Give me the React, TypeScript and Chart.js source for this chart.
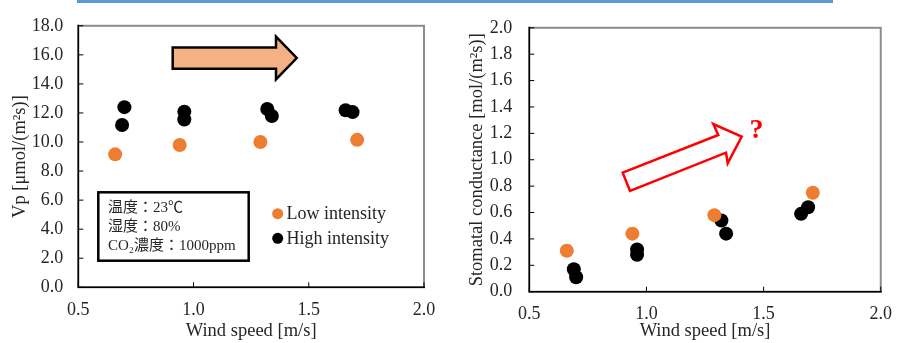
import { useEffect, useRef } from 'react';
import { Chart, registerables } from 'chart.js';
Chart.register(...registerables);

// ---- data ----
const seriesNames = ['Low intensity', 'High intensity'];
const vpLowX = [0.66, 0.94, 1.29, 1.71];
const vpLowY = [9.15, 9.8, 10.0, 10.15];
const vpHighX = [0.7, 0.69, 0.96, 0.96, 1.32, 1.34, 1.66, 1.69];
const vpHighY = [12.4, 11.17, 12.08, 11.55, 12.27, 11.79, 12.19, 12.06];
const gsLowX = [0.66, 0.94, 1.29, 1.71];
const gsLowY = [0.31, 0.44, 0.58, 0.75];
const gsHighX = [0.69, 0.7, 0.96, 0.96, 1.32, 1.34, 1.66, 1.69];
const gsHighY = [0.17, 0.11, 0.32, 0.28, 0.54, 0.44, 0.59, 0.64];
const xRange = [0.5, 2.0];
const xStep = 0.5;
const vpRange = [0, 18];
const vpStep = 2;
const gsRange = [0, 2];
const gsStep = 0.2;
const conditionLines = ['温度：23℃', '湿度：80%', 'CO₂濃度：1000ppm'];
const xTitle = 'Wind speed [m/s]';
const vpTitle = 'Vp [μmol/(m²s)]';
const gsTitle = 'Stomatal conductance [mol/(m²s)]';

const ORANGE = '#ED7D31';
const BLACK = '#000000';
const TEXT = '#262626';
const SERIF = '"Liberation Serif", "Times New Roman", serif';

const toPts = (xs: number[], ys: number[]) => xs.map((x, i) => ({ x, y: ys[i] }));

const frameTicks = {
  id: 'frameTicks',
  afterDatasetsDraw(chart: any) {
    const { ctx, chartArea: a, scales } = chart;
    ctx.save();
    ctx.strokeStyle = '#8c8c8c';
    ctx.lineWidth = 2;
    ctx.strokeRect(a.left, a.top, a.right - a.left, a.bottom - a.top);
    ctx.strokeStyle = '#000';
    ctx.lineWidth = 1.5;
    ctx.beginPath();
    ctx.moveTo(a.left, a.top - 1);
    ctx.lineTo(a.left, a.bottom);
    ctx.lineTo(a.right + 1, a.bottom);
    ctx.stroke();
    ctx.lineWidth = 1;
    ctx.beginPath();
    scales.y.ticks.forEach((t: any) => {
      const p = scales.y.getPixelForValue(t.value);
      ctx.moveTo(a.left, p);
      ctx.lineTo(a.left + 5, p);
    });
    scales.x.ticks.forEach((t: any) => {
      const p = scales.x.getPixelForValue(t.value);
      ctx.moveTo(p, a.bottom);
      ctx.lineTo(p, a.bottom - 5);
    });
    ctx.stroke();
    ctx.restore();
  },
};

function makeOptions(
  yRange: number[],
  yStep: number,
  yTitle: string,
  pad: { left: number; right: number; top: number; bottom: number },
  yWidth: number,
  xHeight: number,
  yPad: number,
  decorate: (ctx: CanvasRenderingContext2D) => void
) {
  return {
    plugins: [
      frameTicks,
      {
        id: 'decor',
        afterDraw(chart: any) {
          const ctx = chart.ctx;
          ctx.save();
          decorate(ctx);
          ctx.restore();
        },
      },
    ],
    options: {
      responsive: false,
      animation: false as const,
      devicePixelRatio: 1,
      layout: { padding: pad },
      plugins: { legend: { display: false }, tooltip: { enabled: false } },
      scales: {
        x: {
          type: 'linear' as const,
          min: xRange[0],
          max: xRange[1],
          grid: { display: false, drawTicks: false },
          border: { display: false },
          ticks: {
            stepSize: xStep,
            padding: 12,
            color: TEXT,
            font: { family: SERIF, size: 18 },
            callback: (v: any) => Number(v).toFixed(1),
          },
          title: {
            display: true,
            text: xTitle,
            color: TEXT,
            padding: 0,
            font: { family: SERIF, size: 18.5 },
          },
          afterFit: (s: any) => {
            s.height = xHeight;
          },
        },
        y: {
          type: 'linear' as const,
          min: yRange[0],
          max: yRange[1],
          grid: { display: false, drawTicks: false },
          border: { display: false },
          ticks: {
            stepSize: yStep,
            padding: yPad,
            color: TEXT,
            font: { family: SERIF, size: 18 },
            callback: (v: any) => Number(v).toFixed(1),
          },
          title: {
            display: true,
            text: yTitle,
            color: TEXT,
            padding: 0,
            font: { family: SERIF, size: 18.5 },
          },
          afterFit: (s: any) => {
            s.width = yWidth;
          },
        },
      },
    },
  };
}

function datasets(lx: number[], ly: number[], hx: number[], hy: number[]) {
  return [
    {
      label: seriesNames[0],
      data: toPts(lx, ly),
      backgroundColor: ORANGE,
      borderWidth: 0,
      pointRadius: 7,
    },
    {
      label: seriesNames[1],
      data: toPts(hx, hy),
      backgroundColor: BLACK,
      borderWidth: 0,
      pointRadius: 7,
    },
  ];
}

function decorLeft(ctx: CanvasRenderingContext2D) {
  // block arrow
  ctx.beginPath();
  ctx.moveTo(172.7, 47.5);
  ctx.lineTo(276, 47.5);
  ctx.lineTo(276, 36.7);
  ctx.lineTo(296.7, 58);
  ctx.lineTo(276, 79.3);
  ctx.lineTo(276, 68.7);
  ctx.lineTo(172.7, 68.7);
  ctx.closePath();
  ctx.fillStyle = '#F4B183';
  ctx.fill();
  ctx.lineWidth = 2.5;
  ctx.strokeStyle = '#000';
  ctx.lineJoin = 'miter';
  ctx.stroke();

  // conditions box
  ctx.fillStyle = '#fff';
  ctx.fillRect(98.3, 192.3, 150.4, 68.4);
  ctx.lineWidth = 2.5;
  ctx.strokeStyle = '#000';
  ctx.strokeRect(98.3, 192.3, 150.4, 68.4);
  ctx.fillStyle = TEXT;
  ctx.font = `15px ${SERIF}, "Noto Sans CJK JP"`;
  ctx.textBaseline = 'middle';
  ctx.textAlign = 'left';
  const ys = [208.5, 227.5, 246.5];
  conditionLines.forEach((t, i) => ctx.fillText(t, 108, ys[i]));

  // legend
  const ly = [213.7, 238.3];
  const cols = [ORANGE, BLACK];
  ctx.font = `18px ${SERIF}`;
  seriesNames.forEach((n, i) => {
    ctx.beginPath();
    ctx.arc(277.7, ly[i], 5.5, 0, Math.PI * 2);
    ctx.fillStyle = cols[i];
    ctx.fill();
    ctx.fillStyle = TEXT;
    ctx.fillText(n, 286.5, ly[i] + 1);
  });
}

function decorRight(ctx: CanvasRenderingContext2D) {
  ctx.beginPath();
  ctx.moveTo(172.7, 172.7);
  ctx.lineTo(268.3, 135);
  ctx.lineTo(263.3, 124);
  ctx.lineTo(291.7, 136.7);
  ctx.lineTo(277.7, 163.3);
  ctx.lineTo(276, 152.7);
  ctx.lineTo(180, 191);
  ctx.closePath();
  ctx.fillStyle = '#fff';
  ctx.fill();
  ctx.lineWidth = 2.5;
  ctx.strokeStyle = '#FF0000';
  ctx.lineJoin = 'miter';
  ctx.stroke();

  ctx.fillStyle = '#FF0000';
  ctx.font = `bold 28px ${SERIF}`;
  ctx.textAlign = 'center';
  ctx.textBaseline = 'middle';
  ctx.fillText('?', 306.5, 131);
}

export default function App() {
  const leftRef = useRef<HTMLCanvasElement>(null);
  const rightRef = useRef<HTMLCanvasElement>(null);

  useEffect(() => {
    const lo = makeOptions(
      vpRange,
      vpStep,
      vpTitle,
      { left: 9, right: 26, top: 14, bottom: 1 },
      69.3,
      54.7,
      15,
      decorLeft
    );
    const left = new Chart(leftRef.current as HTMLCanvasElement, {
      type: 'scatter',
      data: { datasets: datasets(vpLowX, vpLowY, vpHighX, vpHighY) },
      options: lo.options as any,
      plugins: lo.plugins as any,
    });
    const ro = makeOptions(
      gsRange,
      gsStep,
      gsTitle,
      { left: 16, right: 14.7, top: 14, bottom: 1 },
      63.3,
      50.3,
      17,
      decorRight
    );
    const right = new Chart(rightRef.current as HTMLCanvasElement, {
      type: 'scatter',
      data: { datasets: datasets(gsLowX, gsLowY, gsHighX, gsHighY) },
      options: ro.options as any,
      plugins: ro.plugins as any,
    });
    return () => {
      left.destroy();
      right.destroy();
    };
  }, []);

  return (
    <div
      style={{
        position: 'fixed',
        left: 0,
        top: 0,
        width: 904,
        height: 343,
        background: '#fff',
        overflow: 'hidden',
      }}
    >
      <div
        style={{
          position: 'absolute',
          left: 77,
          top: 0,
          width: 756,
          height: 3,
          background: '#5B9BD5',
        }}
      />
      <canvas
        ref={leftRef}
        width={450}
        height={343}
        style={{ position: 'absolute', left: 0, top: 0, width: 450, height: 343 }}
      />
      <canvas
        ref={rightRef}
        width={454}
        height={343}
        style={{ position: 'absolute', left: 450, top: 0, width: 454, height: 343 }}
      />
    </div>
  );
}
